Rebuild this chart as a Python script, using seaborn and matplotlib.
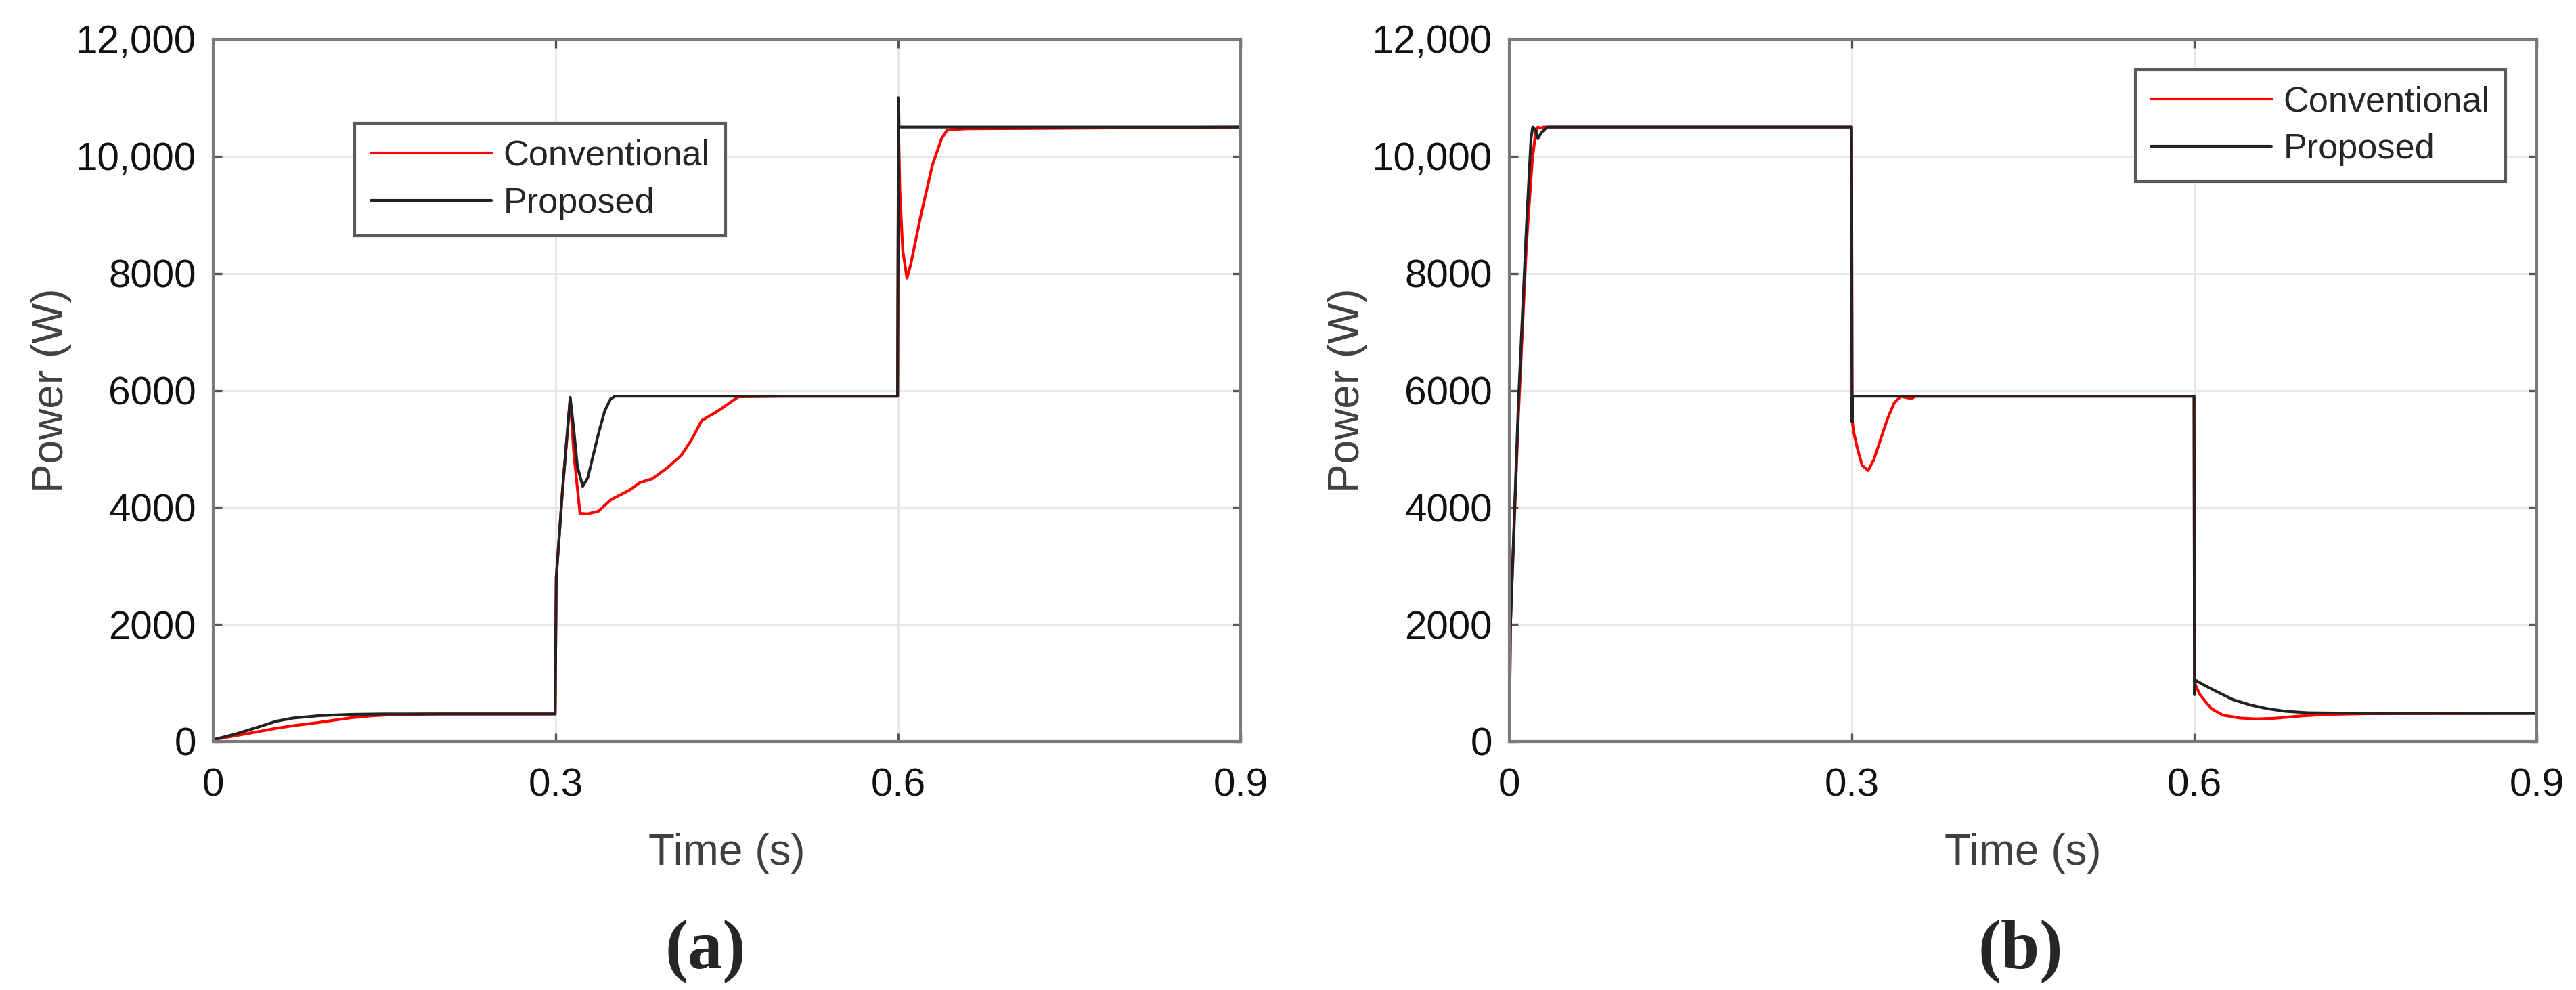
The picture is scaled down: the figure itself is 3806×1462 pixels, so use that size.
import numpy as np
import pandas as pd
import matplotlib
matplotlib.use("Agg")
import matplotlib.pyplot as plt
import seaborn as sns

# ---------------- data ----------------
# Panel (a)
a_conv_t = [0.0, 0.02, 0.04, 0.055, 0.07, 0.0925, 0.11, 0.121, 0.14, 0.16, 0.2, 0.2995,
            0.3005, 0.306, 0.3127, 0.316, 0.3213, 0.328, 0.3373, 0.3486, 0.3646, 0.3735,
            0.3848, 0.3984, 0.41, 0.419, 0.428, 0.4417, 0.455, 0.46, 0.5, 0.5995,
            0.6003, 0.6015, 0.604, 0.6077, 0.611, 0.62, 0.63, 0.638, 0.643, 0.66, 0.75, 0.9]
a_conv_P = [30, 100, 170, 225, 270, 325, 375, 405, 440, 460, 470, 470,
            2800, 4300, 5860, 4900, 3900, 3890, 3935, 4135, 4294, 4421,
            4490, 4687, 4889, 5155, 5486, 5642, 5822, 5890, 5900, 5900,
            10500, 9400, 8400, 7920, 8150, 9000, 9850, 10300, 10450, 10470, 10480, 10500]

a_prop_t = [0.0, 0.02, 0.04, 0.055, 0.07, 0.0925, 0.11, 0.121, 0.15, 0.2, 0.2995,
            0.3005, 0.306, 0.3127, 0.316, 0.319, 0.3237, 0.328, 0.333, 0.338, 0.343,
            0.348, 0.352, 0.45, 0.5995, 0.6003, 0.6008, 0.62, 0.75, 0.9]
a_prop_P = [30, 130, 250, 345, 400, 440, 455, 463, 470, 470, 470,
            2800, 4300, 5880, 5300, 4700, 4360, 4500, 4900, 5300, 5650,
            5850, 5900, 5900, 5900, 11000, 10500, 10500, 10500, 10500]

# Panel (b)
b_conv_t = [0.0, 0.001, 0.008, 0.015, 0.02, 0.023, 0.025, 0.027, 0.03, 0.2, 0.2998,
            0.3003, 0.3015, 0.305, 0.309, 0.3142, 0.319, 0.325, 0.331, 0.337, 0.343,
            0.347, 0.352, 0.356, 0.45, 0.5998, 0.6002, 0.605, 0.615, 0.625, 0.64,
            0.654, 0.67, 0.69, 0.713, 0.75, 0.9]
b_conv_P = [0, 2000, 5600, 8500, 9900, 10400, 10500, 10480, 10500, 10500, 10500,
            5500, 5300, 5000, 4720, 4630, 4800, 5150, 5500, 5780, 5900,
            5880, 5860, 5900, 5900, 5900, 1000, 800, 560, 450, 400,
            385, 395, 430, 460, 475, 480]

b_prop_t = [0.0, 0.001, 0.008, 0.015, 0.019, 0.0205, 0.023, 0.025, 0.028, 0.033, 0.2,
            0.2998, 0.3002, 0.3006, 0.45, 0.5998, 0.6002, 0.6008, 0.61, 0.62, 0.634,
            0.65, 0.664, 0.68, 0.7, 0.75, 0.9]
b_prop_P = [0, 2000, 5800, 8800, 10300, 10500, 10450, 10300, 10400, 10500, 10500,
            10500, 5460, 5900, 5900, 5900, 800, 1050, 950, 850, 715,
            620, 560, 515, 490, 480, 480]

series_names = ["Conventional", "Proposed"]
series_colors = ["#ff0000", "#222222"]
x_ticks = [0, 0.3, 0.6, 0.9]
x_tick_labels = ["0", "0.3", "0.6", "0.9"]
y_ticks = [0, 2000, 4000, 6000, 8000, 10000, 12000]
y_tick_labels = ["0", "2000", "4000", "6000", "8000", "10,000", "12,000"]
panel_captions = ["(a)", "(b)"]
x_label = "Time (s)"
y_label = "Power (W)"


def make_df(ct, cp, pt, pp):
    d1 = pd.DataFrame({"t": ct, "P": cp, "method": series_names[0]})
    d2 = pd.DataFrame({"t": pt, "P": pp, "method": series_names[1]})
    return pd.concat([d1, d2], ignore_index=True)


df_a = make_df(a_conv_t, a_conv_P, a_prop_t, a_prop_P)
df_b = make_df(b_conv_t, b_conv_P, b_prop_t, b_prop_P)

# ---------------- style ----------------
sns.set_theme(style="white")
plt.rcParams["font.family"] = ["Liberation Sans", "DejaVu Sans"]

W, H, DPI = 3806, 1462, 200
fig = plt.figure(figsize=(W / DPI, H / DPI), dpi=DPI)
fig.patch.set_facecolor("white")

ax_w = 1518 / W
ax_h = 1037 / H
ax_bottom = (H - 1095) / H
axes = [fig.add_axes([315 / W, ax_bottom, ax_w, ax_h]),
        fig.add_axes([2230 / W, ax_bottom, ax_w, ax_h])]

palette = dict(zip(series_names, series_colors))

for i, (ax, df) in enumerate(zip(axes, [df_a, df_b])):
    sns.lineplot(data=df, x="t", y="P", hue="method", hue_order=series_names,
                 palette=palette, estimator=None, sort=False, linewidth=1.5,
                 ax=ax, legend=True)
    ax.set_xlim(0, 0.9)
    ax.set_ylim(0, 12000)
    ax.set_xticks(x_ticks)
    ax.set_xticklabels(x_tick_labels)
    ax.set_yticks(y_ticks)
    ax.set_yticklabels(y_tick_labels)
    ax.grid(True, color="#e8e8e8", linewidth=1.1)
    ax.set_axisbelow(True)
    for sp in ax.spines.values():
        sp.set_color("#7a7a7a")
        sp.set_linewidth(1.5)
        sp.set_visible(True)
    ax.tick_params(axis="both", which="major", direction="in", length=4.5, width=1.2,
                   color="#555555", labelsize=21, labelcolor="#111111",
                   top=True, right=True, bottom=True, left=True)
    ax.tick_params(axis="x", pad=14)
    ax.tick_params(axis="y", pad=9)
    ax.set_xlabel(x_label, fontsize=23, color="#404040")
    ax.set_ylabel(y_label, fontsize=23, color="#404040")
    ax.xaxis.set_label_coords(0.5, -0.130)
    ax.yaxis.set_label_coords(-0.138, 0.5)

    handles, labels = ax.get_legend_handles_labels()
    ax.get_legend().remove()
    if i == 0:
        loc, anchor = "upper left", (0.138, 0.880)
    else:
        loc, anchor = "upper right", (0.970, 0.957)
    leg = ax.legend(handles, labels, loc=loc, bbox_to_anchor=anchor,
                    borderaxespad=0, fontsize=18.8, frameon=True, fancybox=False,
                    handlelength=3.4, handletextpad=0.35, borderpad=0.45,
                    labelspacing=0.4)
    leg.get_frame().set_edgecolor("#5a5a5a")
    leg.get_frame().set_linewidth(1.5)
    leg.get_frame().set_alpha(1)
    for lh in leg.get_lines():
        lh.set_linewidth(1.5)

fig.text(1042 / W, 1 - 1405 / H, panel_captions[0], ha="center", va="center",
         fontsize=37, fontweight="bold", family=["Liberation Serif", "DejaVu Serif"])
fig.text(2985 / W, 1 - 1405 / H, panel_captions[1], ha="center", va="center",
         fontsize=37, fontweight="bold", family=["Liberation Serif", "DejaVu Serif"])

fig.savefig("out.png", dpi=DPI, facecolor="white")
